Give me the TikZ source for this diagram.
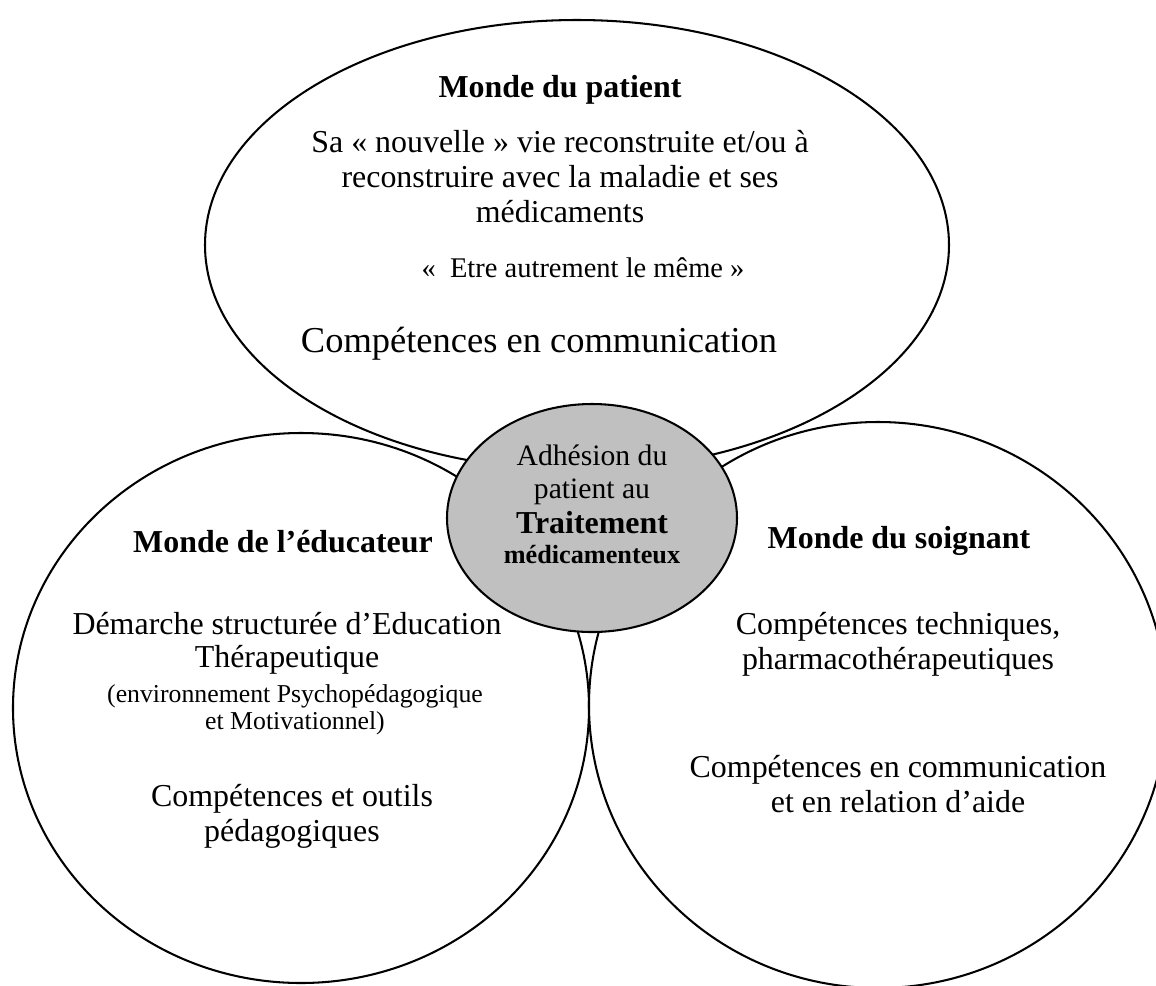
\documentclass[tikz,border=0pt]{standalone}
\usepackage{fontspec}
\setmainfont{Liberation Serif}
\definecolor{centregris}{RGB}{192,192,192}
\tikzset{
  world/.style={draw=black, line width=0.9pt, fill=white},
  hub/.style={draw=black, line width=0.9pt, fill=centregris},
  line/.style={inner sep=0pt, anchor=base},
  ttl/.style={line, font=\fontsize{14}{16}\selectfont\bfseries},
  body/.style={line, font=\fontsize{14}{16}\selectfont},
}
\begin{document}
\begin{tikzpicture}[x=0.4386pt, y=-0.4386pt]
\useasboundingbox (0,0) rectangle (1156,985);
\clip (0,0) rectangle (1156,985);
% worlds
\coordinate (patientC) at (577,245);
\coordinate (educC) at (301,708);
\coordinate (soinC) at (878,705);
\coordinate (hubC) at (592,518);
\draw[world] (patientC) ellipse [x radius=372, y radius=225];
\draw[world] (educC) ellipse [x radius=288, y radius=275];
\draw[world] (soinC) ellipse [x radius=289, y radius=283];
\draw[hub] (hubC) ellipse [x radius=145, y radius=114];
% patient
\node[ttl] (pt) at (560,97) {Monde du patient};
\node[body] (p1a) at (560,152) {Sa « nouvelle » vie reconstruite et/ou à};
\node[body] (p1b) at (560,187) {reconstruire avec la maladie et ses};
\node[body] (p1c) at (560,222) {médicaments};
\node[line, font=\fontsize{12.5}{14}\selectfont] (p2) at (583,277) {«~~Etre autrement le même »};
\node[line, font=\fontsize{16}{18}\selectfont] (p3) at (539,352) {Compétences en communication};
% educateur
\node[ttl] (et) at (283,552) {Monde de l’éducateur};
\node[body] (e1a) at (287,634) {Démarche structurée d’Education};
\node[body] (e1b) at (287,667) {Thérapeutique};
\node[line, font=\fontsize{11.3}{13}\selectfont] (e2a) at (295,702) {(environnement Psychopédagogique};
\node[line, font=\fontsize{11.3}{13}\selectfont] (e2b) at (295,729) {et Motivationnel)};
\node[body] (e3a) at (292,806) {Compétences et outils};
\node[body] (e3b) at (292,841) {pédagogiques};
% soignant
\node[ttl] (st) at (899,548) {Monde du soignant};
\node[body] (s1a) at (898,634) {Compétences techniques,};
\node[body] (s1b) at (898,669) {pharmacothérapeutiques};
\node[body] (s2a) at (898,777) {Compétences en communication};
\node[body] (s2b) at (898,812) {et en relation d’aide};
% centre
\node[line, font=\fontsize{13}{14}\selectfont] (hub1) at (592,465) {Adhésion du};
\node[line, font=\fontsize{13}{14}\selectfont] (hub2) at (592,498) {patient au};
\node[line, font=\fontsize{14}{14}\selectfont\bfseries] (hub3) at (592,533) {Traitement};
\node[line, font=\fontsize{11.5}{14}\selectfont\bfseries] (hub4) at (592,563) {médicamenteux};
\end{tikzpicture}
\end{document}
